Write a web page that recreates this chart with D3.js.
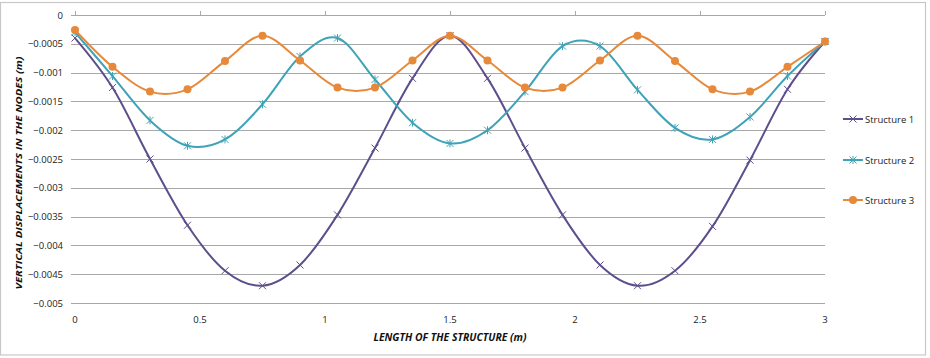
<!DOCTYPE html>
<html>
<head>
<meta charset="utf-8">
<script src="https://cdn.jsdelivr.net/npm/d3@7"></script>
<style>
  body { margin: 0; background: #fff; }
  svg { font-family: "Open Sans", Lato, sans-serif; }
</style>
</head>
<body>
<div id="chart"></div>
<script>
// node positions along the structure (m)
const positions = [0, 0.15, 0.3, 0.45, 0.6, 0.75, 0.9, 1.05, 1.2, 1.35, 1.5,
                   1.65, 1.8, 1.95, 2.1, 2.25, 2.4, 2.55, 2.7, 2.85, 3];

const structure1 = [-0.0004, -0.00126, -0.0025, -0.00365, -0.00444, -0.0047, -0.00434,
                    -0.00347, -0.00231, -0.0011, -0.00036, -0.0011, -0.00231, -0.00347,
                    -0.00434, -0.0047, -0.00444, -0.00367, -0.00252, -0.00129, -0.00046];
const structure2 = [-0.0003, -0.00106, -0.00183, -0.00227, -0.00216, -0.00155, -0.00072,
                    -0.0004, -0.00112, -0.00187, -0.00223, -0.002, -0.00133, -0.00054,
                    -0.00054, -0.0013, -0.00196, -0.00216, -0.00177, -0.00106, -0.00046];
const structure3 = [-0.00026, -0.0009, -0.00133, -0.00129, -0.0008, -0.00036, -0.00079,
                    -0.00126, -0.00126, -0.00079, -0.00036, -0.00079, -0.00126, -0.00126,
                    -0.00079, -0.00036, -0.0008, -0.00129, -0.00133, -0.0009, -0.00046];

const seriesNames = ["Structure 1", "Structure 2", "Structure 3"];
const seriesColors = ["#5d4e8c", "#3fa3b8", "#e6893a"];
const seriesMarkers = ["x", "star", "circle"];
const xTicks = [0, 0.5, 1, 1.5, 2, 2.5, 3];
const yTicks = [0, -0.0005, -0.001, -0.0015, -0.002, -0.0025, -0.003, -0.0035, -0.004, -0.0045, -0.005];

const W = 930, H = 358;
const svg = d3.select("#chart").append("svg").attr("width", W).attr("height", H);

// outer chart border
svg.append("rect").attr("x", 0.5).attr("y", 2.5).attr("width", 925).attr("height", 352.5)
  .attr("fill", "#fff").attr("stroke", "#c8c8c8").attr("stroke-width", 1.2);

const x = d3.scaleLinear().domain([0, 3]).range([75, 825]);
const y = d3.scaleLinear().domain([-0.005, 0]).range([303, 15]);

// horizontal gridlines
svg.append("g").selectAll("line").data(yTicks).join("line")
  .attr("x1", x(0) - 4).attr("x2", x(3))
  .attr("y1", d => Math.round(y(d)) + 0.5).attr("y2", d => Math.round(y(d)) + 0.5)
  .attr("stroke", "#a8a8a8").attr("stroke-width", 1);

// y tick labels
svg.append("g").selectAll("text").data(yTicks).join("text")
  .attr("x", 63).attr("y", d => y(d) + 3.5)
  .attr("text-anchor", "end").attr("font-size", 9.5).attr("fill", "#222")
  .text(d => d === 0 ? "0" : d3.format("")(+d.toFixed(4)));

// x axis sits at y = 0 with small upward ticks, labels at bottom
svg.append("g").selectAll("line").data(xTicks).join("line")
  .attr("x1", d => Math.round(x(d)) + 0.5).attr("x2", d => Math.round(x(d)) + 0.5)
  .attr("y1", y(0) - 4).attr("y2", y(0))
  .attr("stroke", "#a8a8a8");
svg.append("g").selectAll("text").data(xTicks).join("text")
  .attr("x", d => x(d)).attr("y", 323)
  .attr("text-anchor", "middle").attr("font-size", 9.5).attr("fill", "#222")
  .text(d => d);

// axis titles
svg.append("text").attr("x", x(1.5)).attr("y", 341)
  .attr("text-anchor", "middle").attr("font-size", 10).attr("font-weight", "bold")
  .attr("font-style", "italic").attr("fill", "#111")
  .attr("textLength", 153).attr("lengthAdjust", "spacingAndGlyphs")
  .text("LENGTH OF THE STRUCTURE (m)");
svg.append("text").attr("transform", "translate(22,173) rotate(-90)")
  .attr("text-anchor", "middle").attr("font-size", 8.5).attr("font-weight", "bold")
  .attr("font-style", "italic").attr("fill", "#111")
  .attr("textLength", 233).attr("lengthAdjust", "spacingAndGlyphs")
  .text("VERTICAL DISPLACEMENTS IN THE NODES (m)");

function drawMarker(g, type, color, cx, cy) {
  if (type === "circle") {
    g.append("circle").attr("cx", cx).attr("cy", cy).attr("r", 4).attr("fill", color);
  } else {
    const s = 3.5;
    g.append("path")
      .attr("d", `M${cx - s},${cy - s}L${cx + s},${cy + s}M${cx - s},${cy + s}L${cx + s},${cy - s}` +
        (type === "star" ? `M${cx},${cy - s - 0.5}L${cx},${cy + s + 0.5}` : ""))
      .attr("stroke", color).attr("stroke-width", 1).attr("fill", "none");
  }
}

const allSeries = [structure1, structure2, structure3];
const line = d3.line().x(d => x(d[0])).y(d => y(d[1])).curve(d3.curveCardinal.tension(0));

allSeries.forEach((vals, i) => {
  const pts = positions.map((p, j) => [p, vals[j]]);
  const g = svg.append("g");
  g.append("path").attr("d", line(pts)).attr("fill", "none")
    .attr("stroke", seriesColors[i]).attr("stroke-width", 2);
  pts.forEach(p => drawMarker(g, seriesMarkers[i], seriesColors[i], x(p[0]), y(p[1])));
});

// legend
const legendY = [119, 160, 200];
seriesNames.forEach((name, i) => {
  const g = svg.append("g");
  g.append("line").attr("x1", 843).attr("x2", 863).attr("y1", legendY[i]).attr("y2", legendY[i])
    .attr("stroke", seriesColors[i]).attr("stroke-width", 2);
  drawMarker(g, seriesMarkers[i], seriesColors[i], 853, legendY[i]);
  g.append("text").attr("x", 865).attr("y", legendY[i] + 3.5)
    .attr("font-size", 9.5).attr("fill", "#222").text(name);
});
</script>
</body>
</html>
